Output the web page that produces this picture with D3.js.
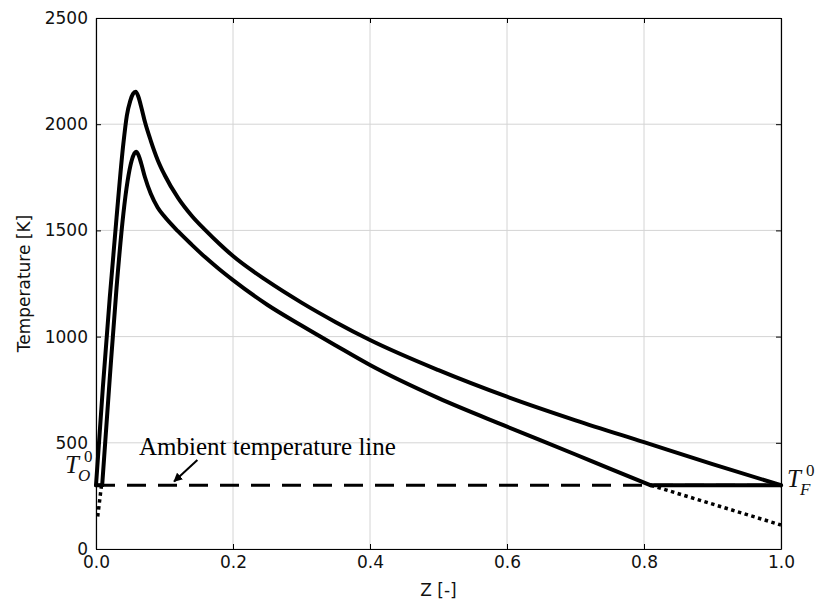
<!DOCTYPE html>
<html>
<head>
<meta charset="utf-8">
<script src="https://cdn.jsdelivr.net/npm/d3@7"></script>
<style>
  html, body { margin: 0; padding: 0; background: #fff; }
  svg { display: block; }
</style>
</head>
<body>
<svg id="chart" width="816" height="603"></svg>
<script>
// ---- data ----
const xTicks = [0.0, 0.2, 0.4, 0.6, 0.8, 1.0];
const yTicks = [0, 500, 1000, 1500, 2000, 2500];

// upper curve (higher peak)
const zUpper = [0, 0.01, 0.02, 0.03, 0.04, 0.045, 0.05, 0.054, 0.058, 0.062, 0.0665, 0.0715, 0.08, 0.09, 0.1, 0.12, 0.14, 0.16, 0.18, 0.2, 0.25, 0.3, 0.35, 0.4, 0.5, 0.6, 0.7, 0.8, 0.9, 1.0];
const tUpper = [300, 760, 1180, 1560, 1910, 2040, 2110, 2143, 2153, 2128, 2075, 2010, 1922, 1832, 1762, 1652, 1568, 1500, 1437, 1379, 1262, 1160, 1068, 984, 842, 717, 606, 503, 400, 300];

// lower curve (above ambient part)
const zLower = [0.009, 0.02, 0.03, 0.04, 0.046, 0.052, 0.0584, 0.062, 0.066, 0.0715, 0.08, 0.09, 0.1, 0.12, 0.14, 0.16, 0.18, 0.2, 0.25, 0.3, 0.35, 0.4, 0.5, 0.6, 0.7, 0.75, 0.81];
const tLower = [300, 800, 1230, 1580, 1730, 1828, 1870, 1855, 1815, 1750, 1672, 1608, 1565, 1495, 1432, 1372, 1317, 1266, 1150, 1052, 958, 866, 710, 576, 445, 378, 300];

// lower curve clipped at ambient (flat parts)
const zLowerFlatL = [0, 0.009];
const tLowerFlatL = [300, 300];
const zLowerFlatR = [0.81, 1.0];
const tLowerFlatR = [300, 300];

// dotted continuation below ambient
const zDotLeft = [0.008, 0.002];
const tDotLeft = [300, 140];
const zDotRight = [0.81, 1.0];
const tDotRight = [300, 113];

// ambient temperature line
const zAmbient = [0, 1.0];
const tAmbient = [300, 300];

// annotation
const annotText = "Ambient temperature line";
const annotTextPos = [0.0628, 443];
const annotArrowFrom = [0.148, 419];
const annotArrowTo = [0.114, 318];

// ---- layout ----
const svg = d3.select("#chart");
const L = 96, R = 781, T = 18, B = 549;
const x = d3.scaleLinear().domain([0, 1]).range([L, R]);
const y = d3.scaleLinear().domain([0, 2500]).range([B, T]);

const tickFont = "DejaVu Sans, sans-serif";

// grid
const grid = svg.append("g");
grid.selectAll(".gx").data(xTicks).join("line")
  .attr("x1", d => x(d)).attr("x2", d => x(d)).attr("y1", T).attr("y2", B)
  .attr("stroke", "#d4d4d4").attr("stroke-width", 1);
grid.selectAll(".gy").data(yTicks).join("line")
  .attr("y1", d => y(d)).attr("y2", d => y(d)).attr("x1", L).attr("x2", R)
  .attr("stroke", "#d4d4d4").attr("stroke-width", 1);

const toPts = (zs, ts) => zs.map((z, i) => [z, ts[i]]);
const line = d3.line().x(d => x(d[0])).y(d => y(d[1]));
const smooth = d3.line().x(d => x(d[0])).y(d => y(d[1])).curve(d3.curveMonotoneX);

// ambient dashed
svg.append("path").datum(toPts(zAmbient, tAmbient))
  .attr("d", line).attr("fill", "none").attr("stroke", "#000")
  .attr("stroke-width", 3).attr("stroke-dasharray", "19,12");

// dotted
[[zDotLeft, tDotLeft], [zDotRight, tDotRight]].forEach(([zs, ts]) => {
  svg.append("path").datum(toPts(zs, ts))
    .attr("d", line).attr("fill", "none").attr("stroke", "#000")
    .attr("stroke-width", 3.5).attr("stroke-dasharray", "3.5,3.5");
});

// curves
[[zLowerFlatL, tLowerFlatL], [zLowerFlatR, tLowerFlatR]].forEach(([zs, ts]) => {
  svg.append("path").datum(toPts(zs, ts))
    .attr("d", line).attr("fill", "none").attr("stroke", "#000")
    .attr("stroke-width", 4).attr("stroke-linecap", "round");
});
svg.append("path").datum(toPts(zLower, tLower))
  .attr("d", smooth).attr("fill", "none").attr("stroke", "#000")
  .attr("stroke-width", 4).attr("stroke-linejoin", "round").attr("stroke-linecap", "round");
svg.append("path").datum(toPts(zUpper, tUpper))
  .attr("d", smooth).attr("fill", "none").attr("stroke", "#000")
  .attr("stroke-width", 4).attr("stroke-linejoin", "round").attr("stroke-linecap", "round");

// axes
const ax = svg.append("g").attr("transform", `translate(0,${B})`)
  .call(d3.axisBottom(x).tickValues(xTicks).tickFormat(d3.format(".1f")).tickSizeInner(-5).tickSizeOuter(0).tickPadding(6));
const ay = svg.append("g").attr("transform", `translate(${L},0)`)
  .call(d3.axisLeft(y).tickValues(yTicks).tickFormat(d3.format("d")).tickSizeInner(-5).tickSizeOuter(0).tickPadding(8));
const axT = svg.append("g").attr("transform", `translate(0,${T})`)
  .call(d3.axisTop(x).tickValues(xTicks).tickFormat("").tickSizeInner(-5).tickSizeOuter(0));
const ayR = svg.append("g").attr("transform", `translate(${R},0)`)
  .call(d3.axisRight(y).tickValues(yTicks).tickFormat("").tickSizeInner(-5).tickSizeOuter(0));
[ax, ay, axT, ayR].forEach(g => {
  g.select(".domain").attr("stroke", "#000").attr("stroke-width", 1.2);
  g.selectAll(".tick line").attr("stroke", "#000").attr("stroke-width", 1);
  g.selectAll(".tick text").attr("font-family", tickFont).attr("font-size", 17).attr("fill", "#111");
});
ax.selectAll(".tick text").attr("dy", "0.75em");

// axis titles
svg.append("text").attr("x", (L + R) / 2).attr("y", 596)
  .attr("text-anchor", "middle").attr("font-family", tickFont).attr("font-size", 17).attr("fill", "#111")
  .text("Z [-]");
svg.append("text").attr("transform", `translate(30,${(T + B) / 2}) rotate(-90)`)
  .attr("text-anchor", "middle").attr("font-family", tickFont).attr("font-size", 17).attr("fill", "#111")
  .text("Temperature [K]");

// annotation
svg.append("defs").append("marker").attr("id", "ah")
  .attr("viewBox", "0 0 10 10").attr("refX", 9).attr("refY", 5)
  .attr("markerWidth", 9).attr("markerHeight", 9).attr("markerUnits", "userSpaceOnUse")
  .attr("orient", "auto")
  .append("path").attr("d", "M0,0 L10,5 L0,10 Z").attr("fill", "#000");
svg.append("line")
  .attr("x1", x(annotArrowFrom[0])).attr("y1", y(annotArrowFrom[1]))
  .attr("x2", x(annotArrowTo[0])).attr("y2", y(annotArrowTo[1]))
  .attr("stroke", "#000").attr("stroke-width", 2).attr("marker-end", "url(#ah)");
svg.append("text").attr("x", x(annotTextPos[0])).attr("y", y(annotTextPos[1]))
  .attr("font-family", "Liberation Serif, Times New Roman, serif").attr("font-size", 25).attr("fill", "#000")
  .text(annotText);

// T labels
function tLabel(px, py, sub) {
  const g = svg.append("g").attr("font-family", "Liberation Serif, Times New Roman, serif").attr("font-style", "italic").attr("fill", "#111");
  g.append("text").attr("x", px).attr("y", py).attr("font-size", 25).text("T");
  g.append("text").attr("x", px + 13).attr("y", py + 8).attr("font-size", 17).text(sub);
  g.append("text").attr("x", px + 19).attr("y", py - 11).attr("font-size", 17).attr("font-style", "normal").text("0");
}
tLabel(65, 473, "O");
tLabel(787, 487, "F");
</script>
</body>
</html>
